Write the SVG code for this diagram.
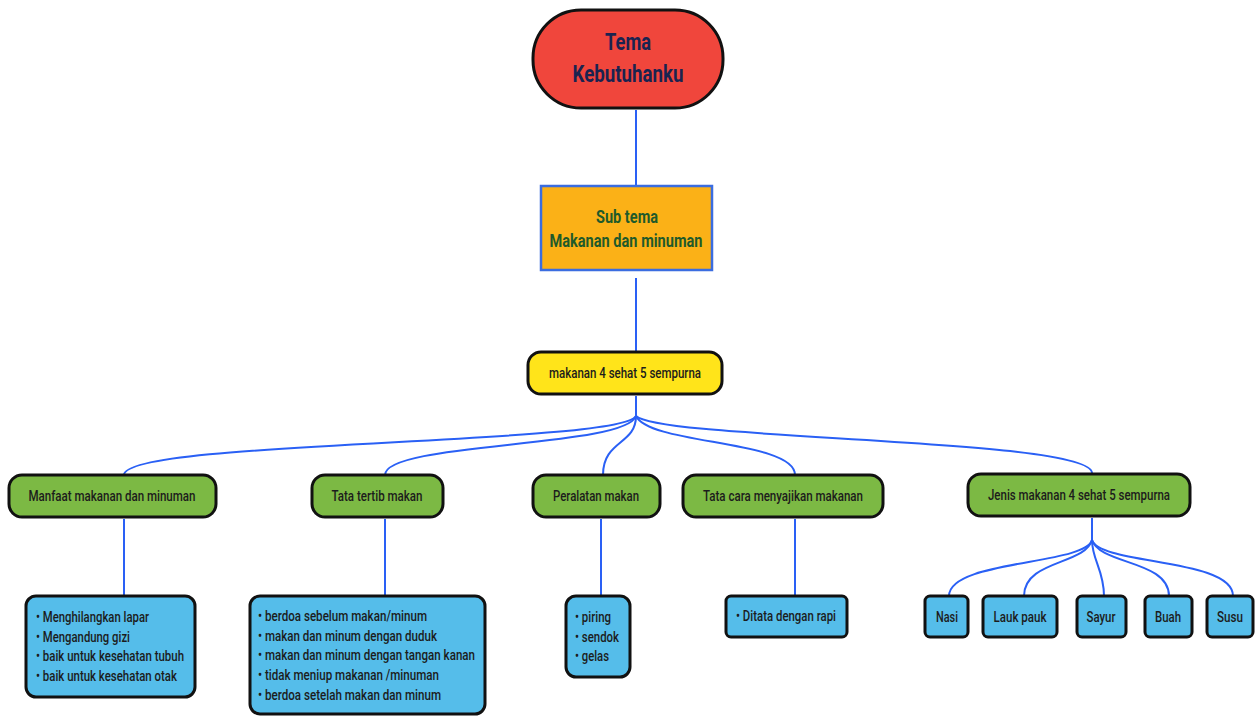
<svg xmlns="http://www.w3.org/2000/svg" width="1260" height="717" viewBox="0 0 1260 717">
<style>
.t{font-family:Roboto,"Liberation Sans",sans-serif;fill:#1c1c1c;font-size:15px;font-weight:500}
.s{font-size:14.5px}
.c{text-anchor:middle}
.green{fill:#7cb944;stroke:#111;stroke-width:3}
.blue{fill:#55bdea;stroke:#111;stroke-width:3}
.con path,.con line{fill:none;stroke:#2a60f5;stroke-width:2}
</style>
<rect width="1260" height="717" fill="#fff"/>
<g class="con">
<line x1="636" y1="110" x2="636" y2="186"/>
<line x1="636" y1="278" x2="636" y2="352"/>
<line x1="636" y1="396" x2="636" y2="416"/>
<path d="M636,416 C620,445 124,440 124,475"/>
<path d="M636,416 C625,448 385,442 385,475"/>
<path d="M636,416 C636,445 603,440 603,475"/>
<path d="M636,416 C650,445 795,440 795,475"/>
<path d="M636,416 C660,440 1092,438 1092,473"/>
<line x1="124" y1="519" x2="124" y2="595"/>
<line x1="385" y1="519" x2="385" y2="595"/>
<line x1="601" y1="519" x2="601" y2="596"/>
<line x1="795" y1="519" x2="795" y2="596"/>
<line x1="1092" y1="518" x2="1092" y2="540"/>
<path d="M1092,540 C1085,565 949,560 949,596"/>
<path d="M1092,540 C1085,565 1024,560 1024,596"/>
<path d="M1092,540 C1092,560 1104,570 1104,596"/>
<path d="M1092,540 C1100,565 1169,560 1169,596"/>
<path d="M1092,540 C1100,565 1233,558 1233,596"/>
</g>
<g id="tema">
<rect x="533" y="10" width="190" height="98" rx="48" fill="#f0463c" stroke="#111" stroke-width="3"/>
<text class="t c" x="628" y="50" style="font-size:23px;font-weight:bold;fill:#1a2350" textLength="46" lengthAdjust="spacingAndGlyphs">Tema</text>
<text class="t c" x="628" y="82" style="font-size:23px;font-weight:bold;fill:#1a2350" textLength="111" lengthAdjust="spacingAndGlyphs">Kebutuhanku</text>
</g>
<g id="subtema">
<rect x="541" y="186" width="171" height="84" fill="#fbb117" stroke="#3b6de0" stroke-width="2.5"/>
<text class="t c" x="627" y="223" style="font-size:19px;font-weight:bold;fill:#1f5a2a" textLength="62" lengthAdjust="spacingAndGlyphs">Sub tema</text>
<text class="t c" x="626" y="247" style="font-size:19px;font-weight:bold;fill:#1f5a2a" textLength="153" lengthAdjust="spacingAndGlyphs">Makanan dan minuman</text>
</g>
<g id="empat-sehat">
<rect x="528" y="352" width="194" height="42" rx="13" fill="#ffe41a" stroke="#111" stroke-width="3"/>
<text class="t c" x="625" y="378" textLength="152" lengthAdjust="spacingAndGlyphs">makanan 4 sehat 5 sempurna</text>
</g>
<g id="manfaat">
<rect class="green" x="9" y="475" width="207" height="42" rx="13"/>
<text class="t c" x="112" y="501" textLength="167" lengthAdjust="spacingAndGlyphs">Manfaat makanan dan minuman</text>
</g>
<g id="tata-tertib">
<rect class="green" x="312" y="475" width="131" height="42" rx="13"/>
<text class="t c" x="377" y="501" textLength="91" lengthAdjust="spacingAndGlyphs">Tata tertib makan</text>
</g>
<g id="peralatan">
<rect class="green" x="533" y="475" width="127" height="42" rx="13"/>
<text class="t c" x="596" y="501" textLength="86" lengthAdjust="spacingAndGlyphs">Peralatan makan</text>
</g>
<g id="tata-cara">
<rect class="green" x="683" y="475" width="200" height="42" rx="13"/>
<text class="t c" x="783" y="501" textLength="160" lengthAdjust="spacingAndGlyphs">Tata cara menyajikan makanan</text>
</g>
<g id="jenis">
<rect class="green" x="968" y="474" width="222" height="42" rx="13"/>
<text class="t c" x="1079" y="500" textLength="182" lengthAdjust="spacingAndGlyphs">Jenis makanan 4 sehat 5 sempurna</text>
</g>
<g id="manfaat-list">
<rect class="blue" x="26" y="596" width="169" height="101" rx="10"/>
<text class="t s" x="36" y="622" textLength="113" lengthAdjust="spacingAndGlyphs">• Menghilangkan lapar</text>
<text class="t s" x="36" y="642" textLength="94" lengthAdjust="spacingAndGlyphs">• Mengandung gizi</text>
<text class="t s" x="36" y="661" textLength="148" lengthAdjust="spacingAndGlyphs">• baik untuk kesehatan tubuh</text>
<text class="t s" x="36" y="681" textLength="141" lengthAdjust="spacingAndGlyphs">• baik untuk kesehatan otak</text>
</g>
<g id="tata-tertib-list">
<rect class="blue" x="250" y="596" width="235" height="118" rx="10"/>
<text class="t s" x="258" y="621" textLength="169" lengthAdjust="spacingAndGlyphs">• berdoa sebelum makan/minum</text>
<text class="t s" x="258" y="641" textLength="179" lengthAdjust="spacingAndGlyphs">• makan dan minum dengan duduk</text>
<text class="t s" x="258" y="660" textLength="217" lengthAdjust="spacingAndGlyphs">• makan dan minum dengan tangan kanan</text>
<text class="t s" x="258" y="680" textLength="181" lengthAdjust="spacingAndGlyphs">• tidak meniup makanan /minuman</text>
<text class="t s" x="258" y="700" textLength="183" lengthAdjust="spacingAndGlyphs">• berdoa setelah makan dan minum</text>
</g>
<g id="peralatan-list">
<rect class="blue" x="566" y="596" width="64" height="81" rx="10"/>
<text class="t s" x="575" y="622" textLength="36" lengthAdjust="spacingAndGlyphs">• piring</text>
<text class="t s" x="575" y="642" textLength="44" lengthAdjust="spacingAndGlyphs">• sendok</text>
<text class="t s" x="575" y="661" textLength="34" lengthAdjust="spacingAndGlyphs">• gelas</text>
</g>
<g id="tata-cara-list">
<rect class="blue" x="726" y="596" width="121" height="41" rx="5"/>
<text class="t s" x="736" y="621" textLength="100" lengthAdjust="spacingAndGlyphs">• Ditata dengan rapi</text>
</g>
<g id="nasi">
<rect class="blue" x="925" y="596" width="43" height="41" rx="5"/>
<text class="t s c" x="947" y="622" textLength="22" lengthAdjust="spacingAndGlyphs">Nasi</text>
</g>
<g id="lauk">
<rect class="blue" x="983" y="596" width="74" height="41" rx="5"/>
<text class="t s c" x="1020" y="622" textLength="53" lengthAdjust="spacingAndGlyphs">Lauk pauk</text>
</g>
<g id="sayur">
<rect class="blue" x="1077" y="596" width="49" height="41" rx="5"/>
<text class="t s c" x="1101" y="622" textLength="29" lengthAdjust="spacingAndGlyphs">Sayur</text>
</g>
<g id="buah">
<rect class="blue" x="1145" y="596" width="47" height="41" rx="5"/>
<text class="t s c" x="1168" y="622" textLength="26" lengthAdjust="spacingAndGlyphs">Buah</text>
</g>
<g id="susu">
<rect class="blue" x="1207" y="596" width="46" height="41" rx="5"/>
<text class="t s c" x="1230" y="622" textLength="26" lengthAdjust="spacingAndGlyphs">Susu</text>
</g>
</svg>
